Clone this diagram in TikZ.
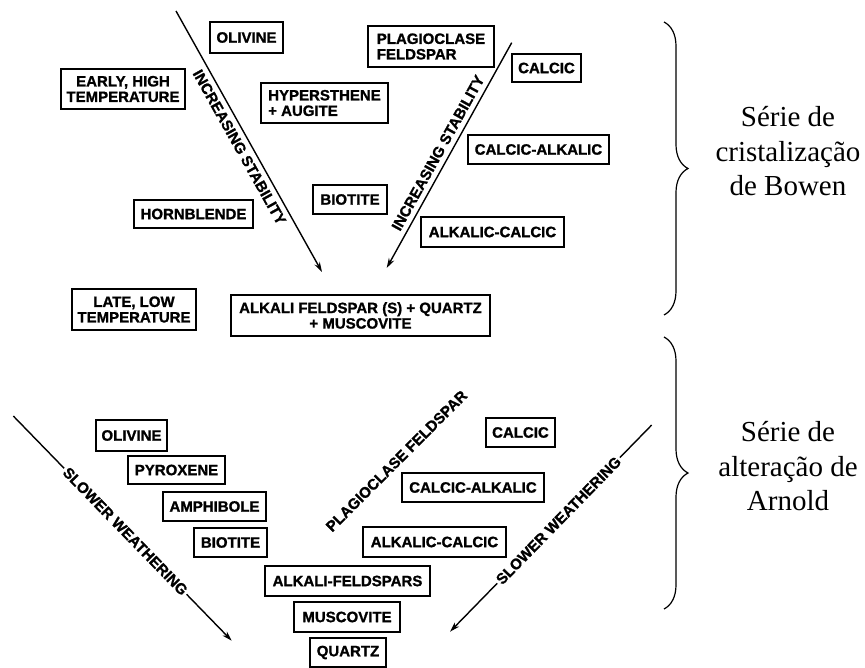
\documentclass[tikz,border=0pt]{standalone}
\usepackage{fontspec}
\setmainfont{Liberation Serif}
\newfontfamily\boxfont{Liberation Sans Bold}[FakeBold=1.2]
\usetikzlibrary{arrows.meta,decorations.pathreplacing}

\tikzset{
  mineral/.style={draw, line width=1.5pt, inner sep=0pt, align=center,
    font=\boxfont\fontsize{15}{15.5}\selectfont},
  flowarrow/.style={line width=1.4pt, -{Stealth[length=10pt,width=6pt]}},
  arrowlabel/.style={sloped, inner sep=1pt,
    font=\boxfont\fontsize{15}{15}\selectfont},
  inlinelabel/.style={arrowlabel, fill=white, inner sep=2pt},
  serieslabel/.style={align=center, font=\fontsize{29}{34.5}\selectfont},
  seriesbrace/.style={decorate, decoration={brace, amplitude=24pt}, line width=1.2pt},
}

\begin{document}
\begin{tikzpicture}[x=1pt, y=-1pt]
\useasboundingbox (0,0) rectangle (865,668);

% ---------- Bowen's reaction series ----------
\node[mineral, minimum width=73,  minimum height=31] (olivineA)  at (246.5,37.5) {OLIVINE};
\node[mineral, minimum width=124, minimum height=40] (early)     at (123,89)     {EARLY, HIGH\\TEMPERATURE};
\node[mineral, minimum width=127, minimum height=40, align=left] (hyper) at (324.5,103) {HYPERSTHENE\\+ AUGITE};
\node[mineral, minimum width=126, minimum height=41, align=left] (plagA) at (431,46.5) {PLAGIOCLASE\\FELDSPAR};
\node[mineral, minimum width=69,  minimum height=28] (calcicA)   at (546.5,68)   {CALCIC};
\node[mineral, minimum width=141, minimum height=29] (calalkA)   at (538.5,149.5){CALCIC-ALKALIC};
\node[mineral, minimum width=74,  minimum height=29] (biotiteA)  at (350,199.5)  {BIOTITE};
\node[mineral, minimum width=119, minimum height=28] (hornbl)    at (193.5,214)  {HORNBLENDE};
\node[mineral, minimum width=143, minimum height=30] (alkcalA)   at (492.5,232)  {ALKALIC-CALCIC};
\node[mineral, minimum width=124, minimum height=41] (late)      at (134,309.5)  {LATE, LOW\\TEMPERATURE};
\node[mineral, minimum width=259, minimum height=41] (finalA)    at (360.5,315.5){ALKALI FELDSPAR (S) + QUARTZ\\+ MUSCOVITE};

\coordinate (incLstart) at (176,11);
\coordinate (incLend)   at (322,272);
\coordinate (incRstart) at (511.7,42.7);
\coordinate (incRend)   at (386.7,268);
\draw[flowarrow] (incLstart) -- node[arrowlabel, below=4pt, pos=0.501] (incLtext) {INCREASING STABILITY} (incLend);
\draw[flowarrow] (incRstart) -- node[arrowlabel, above=4pt, pos=0.513] (incRtext) {INCREASING STABILITY} (incRend);

% ---------- Weathering series ----------
\node[mineral, minimum width=71,  minimum height=31] (olivineB)  at (131.5,435.5){OLIVINE};
\node[mineral, minimum width=97,  minimum height=28] (pyroxene)  at (176.5,470)  {PYROXENE};
\node[mineral, minimum width=103, minimum height=29] (amphibole) at (214.5,506.5){AMPHIBOLE};
\node[mineral, minimum width=73,  minimum height=29] (biotiteB)  at (230.5,542.5){BIOTITE};
\node[mineral, minimum width=165, minimum height=30] (alkfsp)    at (347.5,581)  {ALKALI-FELDSPARS};
\node[mineral, minimum width=106, minimum height=30] (muscovite) at (347,617)    {MUSCOVITE};
\node[mineral, minimum width=76,  minimum height=29] (quartz)    at (348,652.5)  {QUARTZ};
\node[mineral, minimum width=69,  minimum height=29] (calcicB)   at (520.5,432.5){CALCIC};
\node[mineral, minimum width=142, minimum height=29] (calalkB)   at (473,487.5)  {CALCIC-ALKALIC};
\node[mineral, minimum width=143, minimum height=30] (alkcalB)   at (434.5,542)  {ALKALIC-CALCIC};
\node[arrowlabel, sloped=false, rotate=45] (plagB) at (396.5,461) {PLAGIOCLASE FELDSPAR};

\coordinate (slowLstart) at (13.3,416);
\coordinate (slowLend)   at (231.7,640.7);
\coordinate (slowRstart) at (651.7,425);
\coordinate (slowRend)   at (450,631.7);
\draw[flowarrow] (slowLstart) -- node[inlinelabel, pos=0.513] (slowLtext) {SLOWER WEATHERING} (slowLend);
\draw[flowarrow] (slowRstart) -- node[inlinelabel, pos=0.462] (slowRtext) {SLOWER WEATHERING} (slowRend);

% ---------- Braces and series names ----------
\coordinate (braceAtop) at (664,22);
\coordinate (braceAbot) at (664,315);
\coordinate (braceBtop) at (664,337);
\coordinate (braceBbot) at (664,609);
\draw[seriesbrace] (braceAtop) -- (braceAbot);
\draw[seriesbrace] (braceBtop) -- (braceBbot);
\node[serieslabel] (bowen)  at (788,151.5) {Série de\\cristalização\\de Bowen};
\node[serieslabel] (arnold) at (788,466.5) {Série de\\alteração de\\Arnold};
\end{tikzpicture}
\end{document}
